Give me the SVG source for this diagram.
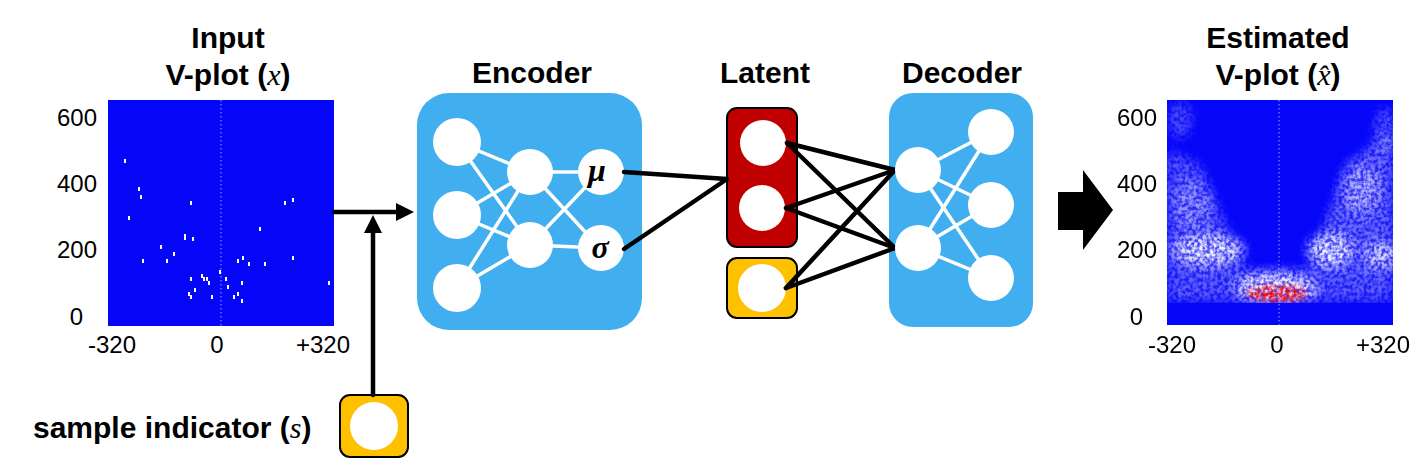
<svg xmlns="http://www.w3.org/2000/svg" width="1417" height="469" viewBox="0 0 1417 469">
<style>
.title{font-family:"Liberation Sans",Arial,sans-serif;font-weight:bold;font-size:30px;fill:#000;text-anchor:middle}
.tick{font-family:"Liberation Sans",Arial,sans-serif;font-size:24px;fill:#000}
.math{font-family:"Liberation Serif","Times New Roman",serif;font-style:italic;font-weight:normal}
.greek{font-family:"Liberation Serif","Times New Roman",serif;font-style:italic;font-weight:bold;font-size:32px;text-anchor:middle}
.box{fill:#41AFEF}
.wn{fill:#fff}
.wl{stroke:#fff;stroke-width:3.5;fill:none}
.bl{stroke:#000;stroke-width:4.5;fill:none;stroke-linecap:round}
.plotbg{fill:#0505F8}
.dot{fill:#fff}
</style>
<defs>
<marker id="ah" markerUnits="userSpaceOnUse" markerWidth="20" markerHeight="20" viewBox="0 0 20 20" refX="2" refY="10" orient="auto">
<path d="M0,1 L18,10 L0,19 Z" fill="#000"/>
</marker>
<clipPath id="rclip"><rect x="1167" y="100" width="226" height="203"/></clipPath>
<filter id="tex" filterUnits="userSpaceOnUse" x="1167" y="100" width="226" height="203">
<feGaussianBlur in="SourceGraphic" stdDeviation="6" result="b"/>
<feTurbulence type="fractalNoise" baseFrequency="0.28" numOctaves="2" seed="4" result="n"/>
<feColorMatrix in="n" type="matrix" values="0 0 0 0 1 0 0 0 0 1 0 0 0 0 1 0 0 0 3 -0.95" result="nw"/>
<feComposite in="b" in2="nw" operator="in" result="t"/>
<feComponentTransfer in="b" result="bh"><feFuncA type="linear" slope="0.3"/></feComponentTransfer>
<feMerge><feMergeNode in="bh"/><feMergeNode in="t"/></feMerge>
</filter>
<filter id="texr" filterUnits="userSpaceOnUse" x="1167" y="100" width="226" height="203">
<feGaussianBlur in="SourceGraphic" stdDeviation="3" result="b"/>
<feTurbulence type="fractalNoise" baseFrequency="0.3" numOctaves="2" seed="9" result="n"/>
<feColorMatrix in="n" type="matrix" values="0 0 0 0 1 0 0 0 0 0 0 0 0 0 0 0 0 0 2.5 -0.7" result="nr"/>
<feComposite in="b" in2="nr" operator="in"/>
</filter>
</defs>

<!-- Input V-plot -->
<g id="input-plot">
<text class="title" x="228" y="48">Input</text>
<text class="title" x="228" y="85">V-plot (<tspan class="math">x</tspan>)</text>
<rect class="plotbg" x="108" y="100" width="226" height="226"/>
<line x1="221" y1="100" x2="221" y2="326" stroke="#9aa8ff" stroke-width="1" stroke-dasharray="1.5,2.5"/>
<g class="dot">
<rect x="124" y="159" width="2" height="4"/>
<rect x="138" y="187" width="2" height="4"/><rect x="140" y="195" width="2" height="4"/>
<rect x="190" y="201" width="2" height="4"/><rect x="128" y="216" width="2" height="4"/>
<rect x="184" y="234" width="2" height="6"/><rect x="192" y="237" width="2" height="4"/>
<rect x="160" y="245" width="2" height="4"/><rect x="173" y="252" width="2" height="4"/>
<rect x="142" y="259" width="2" height="4"/><rect x="166" y="259" width="2" height="4"/>
<rect x="284" y="201" width="2" height="4"/><rect x="292" y="198" width="2" height="4"/>
<rect x="259" y="227" width="2" height="4"/><rect x="292" y="256" width="2" height="4"/>
<rect x="242" y="256" width="2" height="4"/><rect x="237" y="259" width="2" height="4"/>
<rect x="248" y="262" width="2" height="4"/><rect x="264" y="262" width="2" height="4"/>
<rect x="328" y="281" width="2" height="4"/><rect x="219" y="270" width="2" height="4"/>
<rect x="201" y="274" width="2" height="4"/><rect x="203" y="277" width="2" height="4"/>
<rect x="206" y="277" width="2" height="4"/><rect x="208" y="281" width="2" height="4"/>
<rect x="190" y="277" width="2" height="4"/><rect x="225" y="277" width="2" height="4"/>
<rect x="227" y="285" width="2" height="4"/><rect x="241" y="281" width="2" height="4"/>
<rect x="194" y="288" width="2" height="4"/><rect x="188" y="292" width="2" height="4"/>
<rect x="190" y="295" width="2" height="4"/><rect x="211" y="295" width="2" height="4"/>
<rect x="233" y="295" width="2" height="4"/><rect x="237" y="292" width="2" height="4"/>
<rect x="241" y="299" width="2" height="4"/>
</g>
<text class="tick" x="97" y="126" text-anchor="end">600</text>
<text class="tick" x="97" y="192" text-anchor="end">400</text>
<text class="tick" x="97" y="258" text-anchor="end">200</text>
<text class="tick" x="83" y="325" text-anchor="end">0</text>
<text class="tick" x="112" y="353" text-anchor="middle">-320</text>
<text class="tick" x="217" y="353" text-anchor="middle">0</text>
<text class="tick" x="323" y="353" text-anchor="middle">+320</text>
</g>

<!-- Sample indicator -->
<g id="sample-indicator">
<text x="33" y="438" font-family="'Liberation Sans',Arial,sans-serif" font-weight="bold" font-size="30">sample indicator (<tspan class="math">s</tspan>)</text>
<rect x="340" y="395" width="68" height="62" rx="10" fill="#FFC000" stroke="#000" stroke-width="2"/>
<circle class="wn" cx="374" cy="426" r="24"/>
</g>

<!-- Encoder -->
<g id="encoder">
<text class="title" x="532" y="83">Encoder</text>
<rect class="box" x="417" y="93" width="225" height="237" rx="32"/>
<g class="wl">
<line x1="457" y1="142" x2="530" y2="172"/><line x1="457" y1="142" x2="530" y2="245"/>
<line x1="457" y1="215" x2="530" y2="172"/><line x1="457" y1="215" x2="530" y2="245"/>
<line x1="457" y1="288" x2="530" y2="172"/><line x1="457" y1="288" x2="530" y2="245"/>
<line x1="530" y1="172" x2="600" y2="172"/><line x1="530" y1="172" x2="600" y2="248"/>
<line x1="530" y1="245" x2="600" y2="172"/><line x1="530" y1="245" x2="600" y2="248"/>
</g>
<circle class="wn" cx="457" cy="142" r="24"/>
<circle class="wn" cx="457" cy="215" r="24"/>
<circle class="wn" cx="457" cy="288" r="24"/>
<circle class="wn" cx="530" cy="172" r="23"/>
<circle class="wn" cx="530" cy="245" r="23"/>
<circle class="wn" cx="601" cy="172" r="23"/>
<circle class="wn" cx="601" cy="248" r="23"/>
<text class="greek" x="597" y="181">μ</text>
<text class="greek" x="600" y="258">σ</text>
</g>

<!-- Latent -->
<g id="latent">
<text class="title" x="765" y="83">Latent</text>
<rect x="727" y="108" width="70" height="139" rx="10" fill="#C00000" stroke="#000" stroke-width="2"/>
<circle class="wn" cx="763" cy="143" r="23"/>
<circle class="wn" cx="762" cy="208" r="23"/>
</g>
<g id="latent-s">
<rect x="727" y="258" width="70" height="60" rx="10" fill="#FFC000" stroke="#000" stroke-width="2"/>
<circle class="wn" cx="762" cy="288" r="24"/>
</g>

<!-- Decoder -->
<g id="decoder">
<text class="title" x="962" y="83">Decoder</text>
<rect class="box" x="889" y="93" width="144" height="234" rx="24"/>
<g class="wl">
<line x1="918" y1="170" x2="991" y2="132"/><line x1="918" y1="170" x2="991" y2="205"/><line x1="918" y1="170" x2="991" y2="278"/>
<line x1="918" y1="248" x2="991" y2="132"/><line x1="918" y1="248" x2="991" y2="205"/><line x1="918" y1="248" x2="991" y2="278"/>
</g>
</g>

<!-- Connectors -->
<g id="connectors">
<line class="bl" x1="334" y1="212" x2="398" y2="212" stroke-linecap="butt" marker-end="url(#ah)"/>
<line class="bl" x1="373" y1="395" x2="373" y2="231" stroke-linecap="butt" marker-end="url(#ah)"/>
<line class="bl" x1="624" y1="172" x2="727" y2="179"/>
<line class="bl" x1="624" y1="249" x2="727" y2="179"/>
<line class="bl" x1="787" y1="143" x2="895" y2="170"/><line class="bl" x1="787" y1="143" x2="895" y2="248"/>
<line class="bl" x1="786" y1="208" x2="895" y2="170"/><line class="bl" x1="786" y1="208" x2="895" y2="248"/>
<line class="bl" x1="786" y1="288" x2="895" y2="170"/><line class="bl" x1="786" y1="288" x2="895" y2="248"/>
<polygon points="1058,192 1083,192 1083,170 1113,210 1083,250 1083,230 1058,230" fill="#000"/>
</g>

<g id="decoder-nodes">
<circle class="wn" cx="918" cy="170" r="23"/>
<circle class="wn" cx="918" cy="248" r="23"/>
<circle class="wn" cx="991" cy="132" r="23"/>
<circle class="wn" cx="991" cy="205" r="23"/>
<circle class="wn" cx="991" cy="278" r="23"/>
</g>

<!-- Estimated V-plot -->
<g id="output-plot">
<text class="title" x="1278" y="48">Estimated</text>
<text class="title" x="1278" y="85">V-plot (<tspan class="math">x̂</tspan>)</text>
<rect class="plotbg" x="1167" y="100" width="226" height="225"/>
<g clip-path="url(#rclip)">
<g filter="url(#tex)" fill="#fff">
<ellipse cx="1208" cy="250" rx="36" ry="15" opacity="0.9"/>
<ellipse cx="1330" cy="250" rx="22" ry="16" opacity="0.9"/>
<ellipse cx="1382" cy="255" rx="18" ry="13" opacity="0.7"/>
<rect x="1167" y="270" width="226" height="24" opacity="0.3"/>
<rect x="1167" y="295" width="226" height="5" opacity="0.45"/>
<ellipse cx="1276" cy="288" rx="40" ry="15" opacity="1"/>
<polygon points="1167,150 1200,165 1245,270 1167,272" opacity="0.3"/>
<polygon points="1393,130 1393,272 1310,270 1345,165" opacity="0.35"/>
<ellipse cx="1180" cy="120" rx="12" ry="18" opacity="0.25"/>
<ellipse cx="1385" cy="130" rx="10" ry="22" opacity="0.3"/>
<ellipse cx="1362" cy="190" rx="18" ry="24" opacity="0.45"/>
<ellipse cx="1192" cy="205" rx="20" ry="24" opacity="0.3"/>
</g>
<g filter="url(#texr)" fill="#f00">
<ellipse cx="1277" cy="294" rx="30" ry="8"/>
</g>
</g>
<line x1="1279" y1="100" x2="1279" y2="325" stroke="#9aa8ff" stroke-width="1" stroke-dasharray="1.5,2.5"/>
<text class="tick" x="1157" y="126" text-anchor="end">600</text>
<text class="tick" x="1157" y="192" text-anchor="end">400</text>
<text class="tick" x="1157" y="258" text-anchor="end">200</text>
<text class="tick" x="1143" y="325" text-anchor="end">0</text>
<text class="tick" x="1172" y="353" text-anchor="middle">-320</text>
<text class="tick" x="1277" y="353" text-anchor="middle">0</text>
<text class="tick" x="1383" y="353" text-anchor="middle">+320</text>
</g>
</svg>
